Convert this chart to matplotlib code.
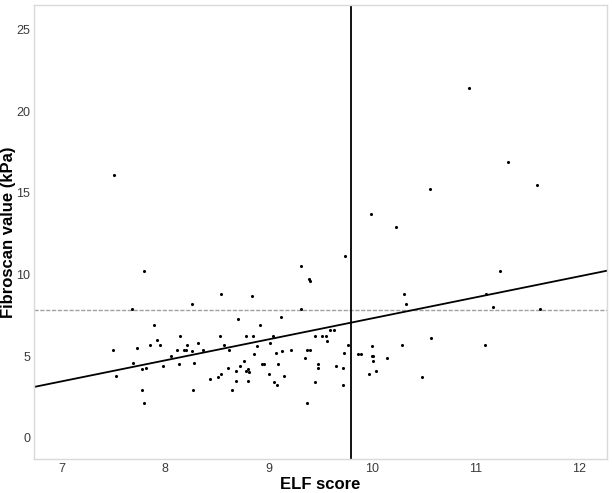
import matplotlib
matplotlib.use('Agg')
import matplotlib.pyplot as plt
import numpy as np

plt.rcParams['font.family'] = ['Liberation Sans', 'DejaVu Sans']

# ELF score vs Fibroscan value
elf = [7.51, 7.50, 7.53, 7.68, 7.69, 7.73, 7.80, 7.78, 7.80, 7.78,
       7.82, 7.85, 7.89, 7.92, 7.95, 7.98, 8.06, 8.11, 8.13, 8.14,
       8.18, 8.20, 8.21, 8.26, 8.26, 8.27, 8.28, 8.32, 8.37, 8.43,
       8.51, 8.53, 8.54, 8.54, 8.57, 8.62, 8.61, 8.65, 8.68, 8.68,
       8.70, 8.72, 8.76, 8.78, 8.78, 8.80, 8.80, 8.81, 8.84, 8.85,
       8.86, 8.89, 8.92, 8.94, 8.96, 9.00, 9.01, 9.04, 9.05, 9.07,
       9.08, 9.09, 9.12, 9.13, 9.15, 9.22, 9.31, 9.31, 9.35, 9.37,
       9.37, 9.39, 9.40, 9.40, 9.45, 9.45, 9.48, 9.48, 9.52, 9.55,
       9.56, 9.59, 9.63, 9.65, 9.72, 9.72, 9.73, 9.74, 9.77, 9.86,
       9.89, 9.97, 9.99, 10.00, 10.00, 10.01, 10.01, 10.04, 10.14, 10.23,
       10.29, 10.31, 10.33, 10.48, 10.56, 10.57, 10.94, 11.09, 11.10, 11.17,
       11.24, 11.31, 11.59, 11.62]
fibroscan = [16.1, 5.4, 3.8, 7.9, 4.6, 5.5, 10.2, 2.9, 2.1, 4.2,
             4.3, 5.7, 6.9, 6.0, 5.7, 4.4, 5.0, 5.4, 4.5, 6.2,
             5.4, 5.4, 5.7, 8.2, 5.3, 2.9, 4.6, 5.8, 5.4, 3.6,
             3.7, 6.2, 3.9, 8.8, 5.7, 5.4, 4.3, 2.9, 4.1, 3.5,
             7.3, 4.4, 4.7, 4.1, 6.2, 4.2, 3.5, 4.0, 8.7, 6.2,
             5.1, 5.6, 6.9, 4.5, 4.5, 3.9, 5.8, 6.2, 3.4, 5.2,
             3.2, 4.5, 7.4, 5.3, 3.8, 5.4, 10.5, 7.9, 4.9, 5.4,
             2.1, 9.7, 9.6, 5.4, 6.2, 3.4, 4.5, 4.3, 6.2, 6.2,
             5.9, 6.6, 6.6, 4.4, 3.2, 4.3, 5.2, 11.1, 5.7, 5.1,
             5.1, 3.9, 13.7, 5.6, 5.0, 5.0, 4.7, 4.1, 4.9, 12.9,
             5.7, 8.8, 8.2, 3.7, 15.2, 6.1, 21.4, 5.7, 8.8, 8.0,
             10.2, 16.9, 15.5, 7.9]

# reference lines
elf_cutoff = 9.8
fibroscan_cutoff = 7.8
fit_intercept = -5.55
fit_slope = 1.286

fig, ax = plt.subplots(figsize=(6.12, 4.93), dpi=100)
fig.subplots_adjust(left=0.055, right=0.992, top=0.99, bottom=0.069)

ax.scatter(elf, fibroscan, s=5, color='black', linewidths=0, zorder=3)
ax.axvline(elf_cutoff, color='black', lw=1.3, zorder=2)
ax.axhline(fibroscan_cutoff, color='#a0a0a0', lw=1.0, ls=(0, (3, 1.2)), zorder=1)
ax.axline((0, fit_intercept), slope=fit_slope, color='black', lw=1.3, zorder=2)

ax.set_xlim(6.73, 12.27)
ax.set_ylim(-1.3, 26.5)
ax.set_xticks([7, 8, 9, 10, 11, 12])
ax.set_yticks([0, 5, 10, 15, 20, 25])
ax.tick_params(length=0, labelsize=9, labelcolor='#3a3a3a')
ax.tick_params(axis='x', pad=3)
ax.tick_params(axis='y', pad=2.5)

for s in ax.spines.values():
    s.set_color('#d9d9d9')
    s.set_linewidth(1.0)

ax.set_xlabel('ELF score', fontsize=12, fontweight='bold')
ax.set_ylabel('Fibroscan value (kPa)', fontsize=12, fontweight='bold')
ax.xaxis.set_label_coords(0.5, -0.039)
ax.yaxis.set_label_coords(-0.031, 0.5)

fig.savefig('out.png', dpi=100)
